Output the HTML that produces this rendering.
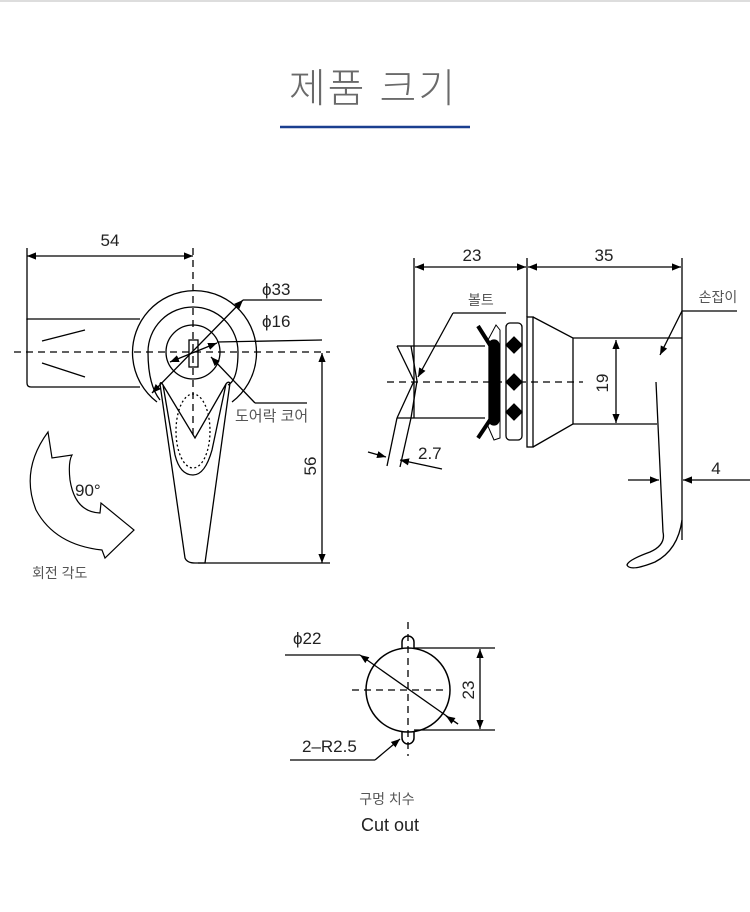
<!DOCTYPE html>
<html><head><meta charset="utf-8"><style>
html,body{margin:0;padding:0;background:#fff;width:750px;height:912px;overflow:hidden}
svg{display:block}
text{font-family:"Liberation Sans","Noto Sans CJK KR",sans-serif;fill:#222}
.k{font-family:"Liberation Sans","Noto Sans CJK KR",sans-serif;fill:#555}
</style></head><body>
<svg width="750" height="912" viewBox="0 0 750 912" xmlns="http://www.w3.org/2000/svg">
<defs>
<marker id="a" viewBox="0 0 10 10" refX="10" refY="5" markerWidth="9" markerHeight="9" orient="auto-start-reverse" markerUnits="userSpaceOnUse"><path d="M0,1 L10,5 L0,9z" fill="#000"/></marker>
</defs>
<line x1="0" y1="1" x2="750" y2="1" stroke="#ddd" stroke-width="2"/>
<text x="373" y="102" text-anchor="middle" font-size="40" class="k" style="fill:#6a6a6a;letter-spacing:2px;font-weight:300">제품 크기</text>
<line x1="280" y1="127" x2="470" y2="127" stroke="#1a3f8f" stroke-width="2.5"/>

<g stroke="#000" stroke-width="1.3" fill="none">
<!-- LEFT -->
<line x1="27" y1="248" x2="27" y2="320"/>
<line x1="27" y1="256" x2="193" y2="256" marker-start="url(#a)" marker-end="url(#a)"/>
<line x1="193" y1="248" x2="193" y2="440" stroke-dasharray="7,5"/>
<line x1="14" y1="352" x2="330" y2="352" stroke-dasharray="7,5"/>
<path d="M140,319 H27 V383 Q27,387 31,387 H140"/>
<line x1="42" y1="341" x2="85" y2="330"/><line x1="42" y1="363" x2="85" y2="377"/>
<path d="M157,402 A62,62 0 1 1 232,402"/>
<path d="M160,400 Q148,385 148,352 A45,45 0 0 1 238,352 Q238,380 228,385"/>
<circle cx="193" cy="352" r="27"/>
<rect x="189" y="340" width="9" height="27"/>
<path d="M160,384 L185,558 Q187,563 195,563 L205,563 L230,383 Q228,381 226,384 L212,450 Q205,475 193,475 Q180,475 175,455 L163,385 Q161,381 160,384z"/>
<path d="M163,385 L195,438 L226,384"/>
<ellipse cx="193" cy="431" rx="17" ry="37" stroke-dasharray="2,2.5"/>
<line x1="152" y1="393" x2="243" y2="300" marker-start="url(#a)" marker-end="url(#a)"/>
<line x1="243" y1="300" x2="322" y2="300"/>
<line x1="170" y1="362" x2="217" y2="343" marker-start="url(#a)" marker-end="url(#a)"/>
<line x1="217" y1="342" x2="322" y2="340"/>
<line x1="255" y1="403" x2="211" y2="357" marker-end="url(#a)"/>
<line x1="255" y1="403" x2="307" y2="403"/>
<line x1="322" y1="353" x2="322" y2="563" marker-start="url(#a)" marker-end="url(#a)"/>
<line x1="198" y1="563" x2="330" y2="563"/>
<path d="M48,432 Q20,470 36,510 Q55,545 102,550 L105,558 L134,530 L101,503 L100,513 Q75,512 70,480 Q68,462 72,455 L52,458z" stroke-width="1.2"/>

<!-- RIGHT -->
<line x1="414" y1="258" x2="414" y2="418"/>
<line x1="527" y1="258" x2="527" y2="317"/>
<line x1="415" y1="267" x2="526" y2="267" marker-start="url(#a)" marker-end="url(#a)"/>
<line x1="528" y1="267" x2="681" y2="267" marker-start="url(#a)" marker-end="url(#a)"/>
<line x1="682" y1="258" x2="682" y2="540"/>
<line x1="397" y1="346" x2="485" y2="346"/><line x1="397" y1="418" x2="485" y2="418"/>
<polyline points="397,346 414,381 397,418"/>
<polyline points="411,346 417,381 411,418"/>
<line x1="387" y1="382" x2="583" y2="382" stroke-dasharray="7,5"/>
<line x1="506" y1="313" x2="453" y2="313"/>
<line x1="453" y1="313" x2="418" y2="377" marker-end="url(#a)"/>
<path d="M480,330 L488,340 L496,325 L500,330 L500,438 L494,440 L487,424 L480,436" stroke-width="1"/>
<rect x="489" y="340" width="10" height="85" rx="5" fill="#000"/>
<path d="M478,326 L490,345 M478,438 L490,420" stroke-width="4"/>
<rect x="506" y="323" width="16" height="117" rx="4"/>
<path d="M506,345 L514,353 L522,345 L514,337z M506,382 L514,390 L522,382 L514,374z M506,412 L514,420 L522,412 L514,404z" fill="#000"/>
<rect x="527" y="317" width="6" height="130"/>
<path d="M533,317 L573,338 L573,424 L533,447"/>
<line x1="573" y1="338" x2="682" y2="338"/><line x1="573" y1="424" x2="657" y2="424"/>
<line x1="616" y1="340" x2="616" y2="423" marker-start="url(#a)" marker-end="url(#a)"/>
<line x1="737" y1="311" x2="682" y2="311"/>
<line x1="682" y1="311" x2="660" y2="355" marker-end="url(#a)"/>
<path d="M656,382 L663,532 Q666,545 650,552 Q628,560 627,565 Q630,572 655,562 Q678,550 682,520"/>
<line x1="628" y1="480" x2="659" y2="480" marker-end="url(#a)"/>
<line x1="750" y1="480" x2="683" y2="480" marker-end="url(#a)"/>
<line x1="397" y1="418" x2="387" y2="466"/><line x1="411" y1="418" x2="400" y2="467"/>
<line x1="368" y1="452" x2="386" y2="457" marker-end="url(#a)"/>
<line x1="442" y1="469" x2="400" y2="460" marker-end="url(#a)"/>

<!-- CUTOUT -->
<line x1="408" y1="622" x2="408" y2="756" stroke-dasharray="7,5"/>
<line x1="352" y1="690" x2="448" y2="690" stroke-dasharray="7,5"/>
<circle cx="408" cy="690" r="42" stroke-width="1.5"/>
<path d="M402,648.5 V642 A6,6 0 0 1 414,642 V648.5" stroke-width="1.5"/>
<path d="M402,731.5 V738 A6,6 0 0 0 414,738 V731.5" stroke-width="1.5"/>
<line x1="414" y1="648" x2="495" y2="648"/><line x1="414" y1="730" x2="495" y2="730"/>
<line x1="480" y1="649" x2="480" y2="729" marker-start="url(#a)" marker-end="url(#a)"/>
<line x1="285" y1="655" x2="360" y2="655"/>
<line x1="360" y1="655" x2="458" y2="724" marker-start="url(#a)"/>
<line x1="458" y1="724" x2="446" y2="716" marker-end="url(#a)"/>
<line x1="290" y1="760" x2="375" y2="760"/>
<line x1="375" y1="760" x2="400" y2="739" marker-end="url(#a)"/>
</g>

<g font-size="17">
<text x="110" y="246" text-anchor="middle">54</text>
<text x="262" y="295">ϕ33</text>
<text x="262" y="327">ϕ16</text>
<text x="235" y="421" class="k" font-size="15">도어락 코어</text>
<text x="316" y="466" text-anchor="middle" transform="rotate(-90 316 466)">56</text>
<text x="75" y="496">90°</text>
<text x="32" y="578" class="k" font-size="14">회전 각도</text>
<text x="472" y="261" text-anchor="middle">23</text>
<text x="604" y="261" text-anchor="middle">35</text>
<text x="468" y="305" class="k" font-size="14">볼트</text>
<text x="718" y="302" text-anchor="middle" class="k" font-size="14">손잡이</text>
<text x="608" y="383" text-anchor="middle" transform="rotate(-90 608 383)">19</text>
<text x="418" y="459">2.7</text>
<text x="716" y="474" text-anchor="middle">4</text>
<text x="293" y="644">ϕ22</text>
<text x="474" y="690" text-anchor="middle" transform="rotate(-90 474 690)">23</text>
<text x="302" y="752">2–R2.5</text>
<text x="387" y="804" text-anchor="middle" class="k" font-size="14">구멍 치수</text>
<text x="390" y="831" text-anchor="middle" font-size="18">Cut out</text>
</g>
</svg>
</body></html>
